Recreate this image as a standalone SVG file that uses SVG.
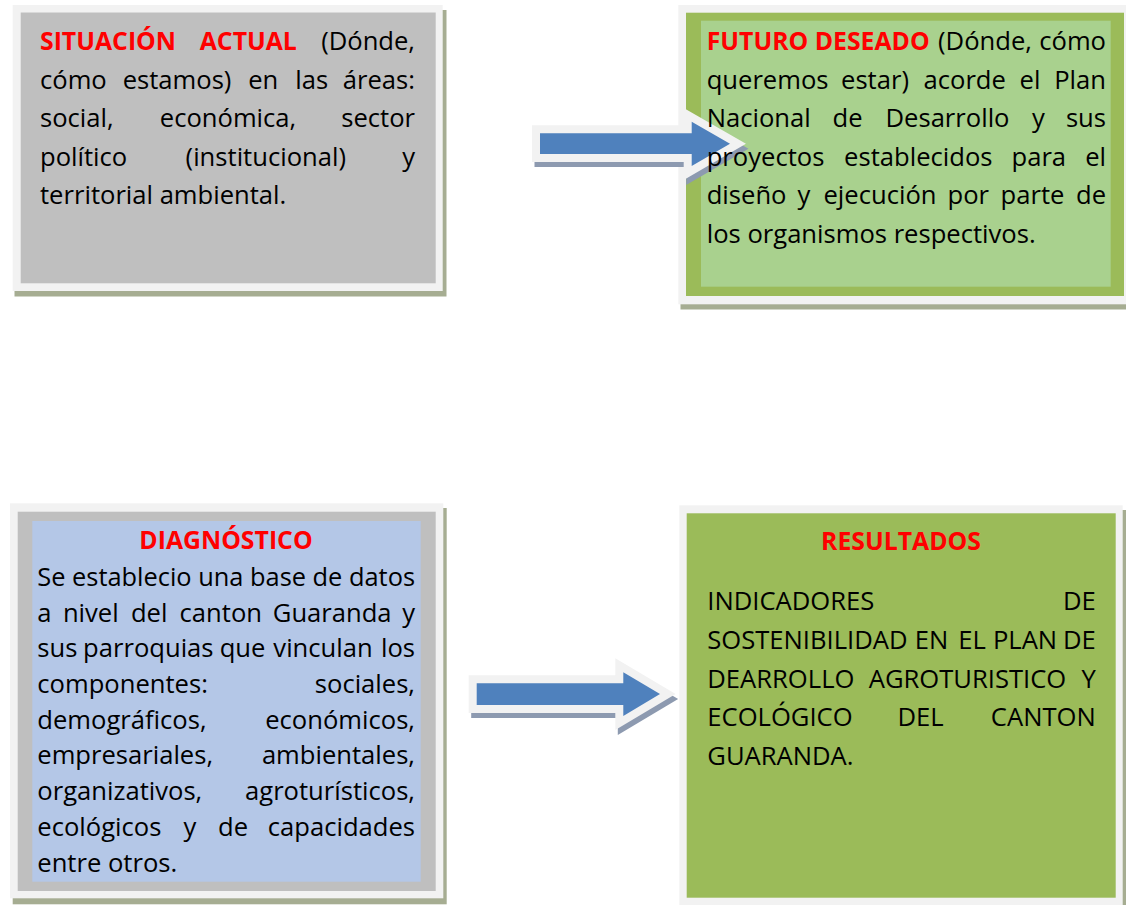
<svg xmlns="http://www.w3.org/2000/svg" width="1126" height="905" viewBox="0 0 1126 905">
<style>
text{font-family:"Open Sans","Liberation Sans",sans-serif;font-size:25.6px;fill:#000}
.r{fill:#ff0000;font-weight:bold;font-size:24.8px}
.m{text-anchor:middle}
.e{text-anchor:end}
.frame{fill:#f2f2f2}
.shadow{fill:#a6ad92}
.gray{fill:#bfbfbf}
.green{fill:#9bbb59}
.lgreen{fill:#a9d18e}
.blue{fill:#b4c7e7}
.ashadow{fill:#8d9ab0;stroke:#8d9ab0;stroke-width:16;stroke-linejoin:miter;stroke-miterlimit:10}
.arrow{fill:#4f81bd;stroke:#f2f2f2;stroke-width:16;stroke-linejoin:miter;stroke-miterlimit:10;paint-order:stroke}
</style>
<rect width="1126" height="905" fill="#ffffff"/>

<g id="situacion-actual">
<rect class="shadow" x="14.5" y="10" width="432" height="286.5"/>
<rect class="frame" x="12.7" y="5" width="430" height="286"/>
<rect class="gray" x="20.7" y="12.5" width="415" height="270.8"/>
<text x="40" y="50" class="r">SITUACIÓN</text>
<text x="248.3" y="50" class="r m">ACTUAL</text>
<text x="415" y="50" class="e">(Dónde,</text>
<text x="40" y="88.7">cómo</text>
<text x="177" y="88.7" class="m">estamos)</text>
<text x="263.3" y="88.7" class="m">en</text>
<text x="311.7" y="88.7" class="m">las</text>
<text x="415" y="88.7" class="e">áreas:</text>
<text x="40" y="127">social,</text>
<text x="228" y="127" class="m">económica,</text>
<text x="415" y="127" class="e">sector</text>
<text x="40" y="165.5">político</text>
<text x="265.8" y="165.5" class="m">(institucional)</text>
<text x="415" y="165.5" class="e">y</text>
<text x="40" y="203.5">territorial ambiental.</text>
</g>

<g id="futuro-deseado">
<rect class="shadow" x="680.5" y="10" width="446" height="299.5"/>
<rect class="frame" x="678.3" y="5" width="448" height="299.3"/>
<rect class="green" x="686" y="12.7" width="438" height="283.3"/>
<rect class="lgreen" x="701" y="20.7" width="409.7" height="266"/>
</g>

<g id="diagnostico">
<rect class="shadow" x="12.7" y="508" width="434" height="396.3"/>
<rect class="frame" x="10" y="503.3" width="433.3" height="395"/>
<rect class="gray" x="17.7" y="511.7" width="418" height="379.3"/>
<rect class="blue" x="32.3" y="521" width="388.4" height="360.7"/>
<text x="226" y="549" class="r m">DIAGNÓSTICO</text>
<text x="37.3" y="585.7" textLength="377.7" lengthAdjust="spacingAndGlyphs">Se establecio una base de datos</text>
<text x="37.3" y="621.7">a</text>
<text x="90.8" y="621.7" class="m">nivel</text>
<text x="149.2" y="621.7" class="m">del</text>
<text x="220.8" y="621.7" class="m">canton</text>
<text x="332.2" y="621.7" class="m">Guaranda</text>
<text x="415" y="621.7" class="e">y</text>
<text x="37.3" y="657.3">sus</text>
<text x="148.3" y="657.3" class="m">parroquias</text>
<text x="242.5" y="657.3" class="m">que</text>
<text x="323" y="657.3" class="m">vinculan</text>
<text x="415" y="657.3" class="e">los</text>
<text x="37.3" y="693.3">componentes:</text>
<text x="415" y="693.3" class="e">sociales,</text>
<text x="37.3" y="728.7">demográficos,</text>
<text x="415" y="728.7" class="e">económicos,</text>
<text x="37.3" y="764.3">empresariales,</text>
<text x="415" y="764.3" class="e">ambientales,</text>
<text x="37.3" y="800">organizativos,</text>
<text x="415" y="800" class="e">agroturísticos,</text>
<text x="37.3" y="835.7">ecológicos</text>
<text x="190" y="835.7" class="m">y</text>
<text x="233" y="835.7" class="m">de</text>
<text x="415" y="835.7" class="e">capacidades</text>
<text x="37.3" y="871.7">entre otros.</text>
</g>

<g id="resultados">
<rect class="shadow" x="683" y="510" width="443" height="395"/>
<rect class="frame" x="679.3" y="505.3" width="443.4" height="399.7"/>
<rect class="green" x="686.7" y="513.3" width="429" height="384.4"/>
<text x="901" y="550" class="r m">RESULTADOS</text>
<text x="707.3" y="610">INDICADORES</text>
<text x="1095.7" y="610" class="e">DE</text>
<text x="707.3" y="649">SOSTENIBILIDAD</text>
<text x="931.5" y="649" class="m">EN</text>
<text x="972" y="649" class="m">EL</text>
<text x="1025" y="649" class="m">PLAN</text>
<text x="1095.7" y="649" class="e">DE</text>
<text x="707.3" y="687.7">DEARROLLO</text>
<text x="967.5" y="687.7" class="m">AGROTURISTICO</text>
<text x="1095.7" y="687.7" class="e">Y</text>
<text x="707.3" y="726">ECOLÓGICO</text>
<text x="920.5" y="726" class="m">DEL</text>
<text x="1095.7" y="726" class="e">CANTON</text>
<text x="707.3" y="765">GUARANDA.</text>
</g>

<g id="connectors">
<polygon class="ashadow" transform="translate(2.5,5)" points="540,133.3 691.7,133.3 691.7,121.7 730,143.7 691.7,166 691.7,154 540,154"/>
<polygon class="arrow" points="540,133.3 691.7,133.3 691.7,121.7 730,143.7 691.7,166 691.7,154 540,154"/>
<polygon class="ashadow" transform="translate(2.5,5)" points="476.7,683.3 623.3,683.3 623.3,672.3 660,694 623.3,716 623.3,705 476.7,705"/>
<polygon class="arrow" points="476.7,683.3 623.3,683.3 623.3,672.3 660,694 623.3,716 623.3,705 476.7,705"/>
</g>

<g id="futuro-deseado-text">
<text x="706.7" y="50" class="r">FUTURO DESEADO</text>
<text x="985" y="50" class="m">(Dónde,</text>
<text x="1106" y="50" class="e">cómo</text>
<text x="706.7" y="88.7">queremos</text>
<text x="875" y="88.7" class="m">estar)</text>
<text x="964.7" y="88.7" class="m">acorde</text>
<text x="1030" y="88.7" class="m">el</text>
<text x="1106" y="88.7" class="e">Plan</text>
<text x="706.7" y="127">Nacional</text>
<text x="847.5" y="127" class="m">de</text>
<text x="947.5" y="127" class="m">Desarrollo</text>
<text x="1038.3" y="127" class="m">y</text>
<text x="1106" y="127" class="e">sus</text>
<text x="706.7" y="165.5">proyectos</text>
<text x="918.3" y="165.5" class="m">establecidos</text>
<text x="1038.8" y="165.5" class="m">para</text>
<text x="1106" y="165.5" class="e">el</text>
<text x="706.7" y="204">diseño</text>
<text x="804" y="204" class="m">y</text>
<text x="880" y="204" class="m">ejecución</text>
<text x="968.3" y="204" class="m">por</text>
<text x="1032.5" y="204" class="m">parte</text>
<text x="1106" y="204" class="e">de</text>
<text x="706.7" y="242.5">los organismos respectivos.</text>
</g>
</svg>
